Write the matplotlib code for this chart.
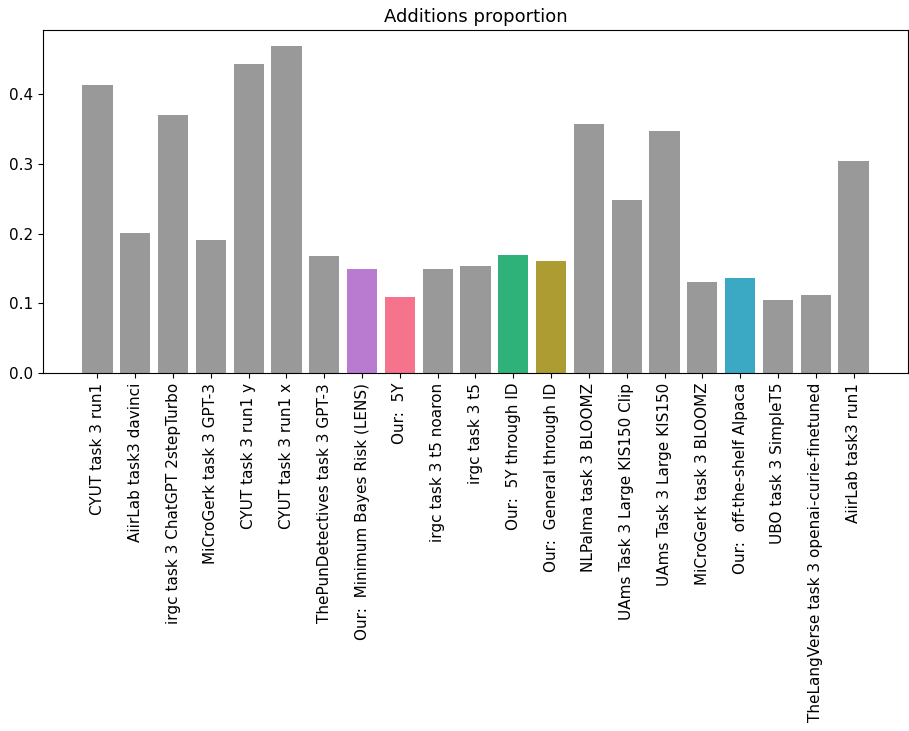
import matplotlib
matplotlib.use("Agg")
import matplotlib.pyplot as plt

systems = [
    "CYUT task 3 run1",
    "AiirLab task3 davinci",
    "irgc task 3 ChatGPT 2stepTurbo",
    "MiCroGerk task 3 GPT-3",
    "CYUT task 3 run1 y",
    "CYUT task 3 run1 x",
    "ThePunDetectives task 3 GPT-3",
    "Our:  Minimum Bayes Risk (LENS)",
    "Our:  5Y",
    "irgc task 3 t5 noaron",
    "irgc task 3 t5",
    "Our:  5Y through ID",
    "Our:  General through ID",
    "NLPalma task 3 BLOOMZ",
    "UAms Task 3 Large KIS150 Clip",
    "UAms Task 3 Large KIS150",
    "MiCroGerk task 3 BLOOMZ",
    "Our:  off-the-shelf Alpaca",
    "UBO task 3 SimpleT5",
    "TheLangVerse task 3 openai-curie-finetuned",
    "AiirLab task3 run1",
]

additions = [
    0.414, 0.201, 0.371, 0.191, 0.443, 0.469, 0.168,
    0.150, 0.109, 0.150, 0.153, 0.169, 0.161, 0.358,
    0.248, 0.348, 0.130, 0.136, 0.105, 0.112, 0.305,
]

# Highlight colours for our own systems; everything else is grey
our_colors = {
    "Our:  Minimum Bayes Risk (LENS)": "#b87bd0",
    "Our:  5Y": "#f5738b",
    "Our:  5Y through ID": "#2fb27a",
    "Our:  General through ID": "#ad9c31",
    "Our:  off-the-shelf Alpaca": "#3ba8c4",
}
colors = [our_colors.get(s, "#999999") for s in systems]

fig = plt.figure(figsize=(9.09, 7.31), dpi=100)
ax = fig.add_axes([0.0473, 0.4897, 0.9516, 0.4693])
ax.bar(range(len(systems)), additions, color=colors, width=0.8)
ax.set_xticks(range(len(systems)))
ax.set_xticklabels(systems, rotation=90, fontsize=11)
ax.tick_params(axis="y", labelsize=11)
ax.set_title("Additions proportion", fontsize=13)

fig.savefig("out.png", dpi=100)
